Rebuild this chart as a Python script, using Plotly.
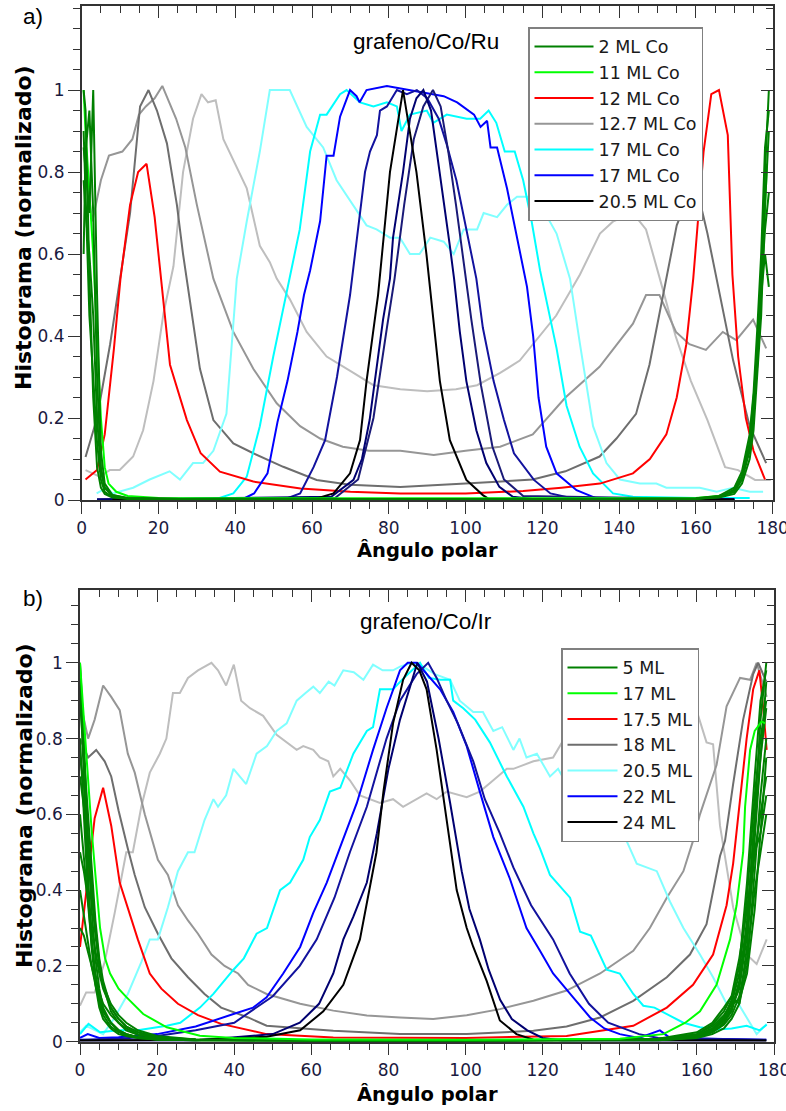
import plotly.graph_objects as go

W, H = 786, 1111

# ---------------- tick definitions ----------------
X_TICKS = [0, 20, 40, 60, 80, 100, 120, 140, 160, 180]
Y_TICKS = [0, 0.2, 0.4, 0.6, 0.8, 1.0]
Y_TICKTEXT = ["0", "0.2", "0.4", "0.6", "0.8", "1"]

# ================= Panel a) grafeno/Co/Ru =================
# 2 ML Co (dark green bundle)
XA_DG = [0.5, 1, 2, 3, 4, 5, 6, 8, 12, 30, 80, 130, 160, 166, 170, 172, 174, 175, 176, 177, 178, 179]
DGA_1 = [1.0, 0.95, 0.55, 0.25, 0.08, 0.03, 0.015, 0.006, 0.003, 0.002, 0.002, 0.002, 0.003, 0.008, 0.02, 0.05, 0.12, 0.2, 0.35, 0.55, 0.8, 1.0]
DGA_2 = [0.86, 0.8, 0.7, 1.0, 0.5, 0.12, 0.04, 0.012, 0.004, 0.002, 0.002, 0.002, 0.004, 0.01, 0.03, 0.07, 0.16, 0.26, 0.42, 0.6, 0.86, 0.95]
DGA_3 = [0.6, 0.85, 0.95, 0.7, 0.3, 0.08, 0.03, 0.01, 0.004, 0.002, 0.002, 0.002, 0.003, 0.006, 0.015, 0.04, 0.1, 0.17, 0.3, 0.45, 0.72, 0.9]
DGA_4 = [0.78, 0.7, 0.6, 0.45, 0.2, 0.07, 0.03, 0.012, 0.005, 0.002, 0.002, 0.002, 0.003, 0.007, 0.025, 0.06, 0.14, 0.24, 0.38, 0.52, 0.66, 0.75]
DGA_5 = [0.9, 0.75, 0.45, 0.3, 0.14, 0.05, 0.02, 0.008, 0.003, 0.002, 0.002, 0.002, 0.003, 0.009, 0.022, 0.055, 0.13, 0.22, 0.33, 0.5, 0.6, 0.52]

# 11 ML Co
XA_LG = [0.5, 1, 2, 3, 4, 5, 6, 7, 9, 12, 20, 40, 80, 120, 160, 166, 170, 172, 174, 176, 177.5, 178.5]
LG_A = [1.0, 0.9, 0.75, 0.6, 0.4, 0.2, 0.08, 0.04, 0.02, 0.01, 0.005, 0.004, 0.004, 0.004, 0.005, 0.01, 0.02, 0.06, 0.15, 0.35, 0.6, 0.82]

# 12 ML Co
XA_R = [1, 4, 6, 8.4, 10.1, 12.6, 14.7, 16.9, 19, 20.6, 23, 27.4, 31, 36, 44.7, 57, 70, 83, 100, 115,
        125, 135, 143.6, 148, 152.3, 155, 157.5, 159.3, 160.4, 162, 164, 166, 168.3, 169.5, 171, 173, 175, 178]
RED_A = [0.05, 0.073, 0.16, 0.37, 0.54, 0.72, 0.8, 0.82, 0.69, 0.55, 0.33, 0.195, 0.114, 0.069, 0.045, 0.028, 0.02, 0.016, 0.016, 0.022,
         0.03, 0.04, 0.065, 0.1, 0.16, 0.25, 0.38, 0.54, 0.66, 0.85, 0.99, 1.0, 0.89, 0.55, 0.35, 0.2, 0.12, 0.05]

# 12.7 ML Co (three grays)
XA_GD = [1, 4, 7.4, 10, 12.6, 15.2, 17.4, 19.6, 22.2, 24.8, 26.4, 30.8, 34.3, 39.5, 44.7, 52.5, 61.2, 69.9, 83, 100,
         117.5, 126, 134.9, 139.3, 144.4, 147.9, 150.5, 152.3, 155, 158, 161, 163, 165.4, 169.7, 174, 178.3]
GD_A = [0.105, 0.2, 0.38, 0.54, 0.7, 0.96, 1.0, 0.95, 0.87, 0.72, 0.6, 0.32, 0.195, 0.138, 0.114, 0.081, 0.049, 0.037, 0.032, 0.04,
        0.05, 0.07, 0.106, 0.15, 0.21, 0.33, 0.455, 0.54, 0.67, 0.74, 0.73, 0.65, 0.54, 0.34, 0.18, 0.09]
XA_GM = [0.9, 2.8, 5, 7.1, 10.6, 13.2, 14.9, 16.7, 19, 21, 22.8, 24.6, 27, 30, 34.3, 39.5, 44.7, 50.8, 56.9, 62.1,
         68, 74.8, 83, 91.7, 100, 109, 117.5, 126, 134.9, 143.6, 147, 150.5, 154.8, 158.3, 162.6, 167, 170.5, 174.9, 178.3]
GM_A = [0.8, 0.68, 0.78, 0.84, 0.85, 0.88, 0.94, 0.96, 0.98, 1.01, 0.97, 0.93, 0.86, 0.72, 0.54, 0.41, 0.32, 0.236, 0.18, 0.15,
        0.13, 0.12, 0.12, 0.11, 0.12, 0.13, 0.16, 0.25, 0.325, 0.43, 0.5, 0.5, 0.41, 0.38, 0.366, 0.41, 0.39, 0.44, 0.37]
XA_GL = [1, 4.7, 7.3, 9.9, 13.4, 16, 18.7, 21.3, 23.9, 26.4, 29, 31.2, 32.9, 34.9, 36.9, 39.5, 43, 46.4, 49, 50.8,
         54.2, 58.6, 63.8, 70.8, 76, 83, 90, 97.5, 103, 109, 114.1, 123.6, 129.8, 135, 138.5, 143.6, 147, 150.6, 154.7, 158.7,
         163, 167.6, 171, 175.4, 179.5]
GL_A = [0.073, 0.057, 0.073, 0.073, 0.106, 0.17, 0.29, 0.455, 0.57, 0.8, 0.93, 0.99, 0.97, 0.975, 0.88, 0.83, 0.76, 0.62, 0.58, 0.54,
        0.49, 0.41, 0.35, 0.31, 0.28, 0.27, 0.265, 0.27, 0.28, 0.31, 0.34, 0.45, 0.55, 0.65, 0.68, 0.7, 0.66, 0.54, 0.4, 0.29,
        0.195, 0.08, 0.073, 0.049, 0.049]

# 17 ML Co (light cyan and cyan)
XA_LC = [3.9, 6.5, 8.1, 13.4, 17.7, 22.9, 25.6, 29, 31.6, 34.3, 37.7, 40.4, 43, 46.4, 49, 51.6, 54.2, 58.6, 62.9, 66.4,
         70.7, 74.2, 76.8, 80.3, 82.9, 85.5, 88, 90.8, 94.3, 96.9, 99.5, 103, 104.7, 108.2, 110.8, 113.4, 116, 119.5, 123.7, 127.2,
         129.8, 133.2, 136.7, 140.2, 145.4, 149.7, 152.3, 161, 165.4, 169.7, 174, 177.5]
LC_A = [0.016, 0.03, 0.016, 0.03, 0.05, 0.07, 0.05, 0.09, 0.09, 0.12, 0.21, 0.54, 0.68, 0.85, 1.0, 1.0, 1.0, 0.91, 0.86, 0.78,
        0.72, 0.67, 0.66, 0.64, 0.64, 0.6, 0.6, 0.64, 0.63, 0.6, 0.66, 0.66, 0.7, 0.69, 0.72, 0.74, 0.74, 0.72, 0.65, 0.54,
        0.38, 0.18, 0.09, 0.05, 0.04, 0.04, 0.03, 0.03, 0.02, 0.03, 0.02, 0.02]
XA_C = [34.3, 39.5, 43, 46.4, 49.9, 52.5, 54.5, 56.8, 59.5, 62.1, 63.8, 67.3, 69, 72.5, 76, 79.5, 82.1, 83.3, 85.5, 89.9,
        91.6, 95.1, 100.3, 103.8, 106, 108, 110.2, 112.8, 115, 117.2, 119.4, 122, 123.7, 126.3, 129.7, 133.2, 138.4, 143.6, 160, 174]
C_A = [0, 0.016, 0.057, 0.18, 0.35, 0.47, 0.56, 0.66, 0.85, 0.94, 0.94, 0.99, 1.0, 0.97, 0.96, 0.97, 0.96, 0.9, 0.94, 0.95,
       0.92, 0.94, 0.93, 0.93, 0.95, 0.92, 0.85, 0.85, 0.78, 0.68, 0.56, 0.44, 0.37, 0.23, 0.13, 0.065, 0.016, 0.008, 0.005, 0.005]

# 17 ML Co (blue) and navy curves
XA_B = [41.5, 44.9, 48.4, 51, 53.6, 56.2, 57.9, 59.5, 62.1, 63.8, 65.6, 67.3, 69.9, 71.6, 72.4, 74.2, 79.5, 85.6, 90.8, 94.3,
        97.8, 102.2, 103.9, 105.6, 106.5, 108.2, 110.8, 113.4, 116, 117.6, 119, 121, 123.7, 128.9, 134.1, 170]
B_A = [0, 0.016, 0.065, 0.19, 0.29, 0.41, 0.5, 0.56, 0.68, 0.84, 0.84, 0.935, 1.0, 0.985, 0.97, 1.0, 1.01, 1.0, 0.99, 0.985,
       0.97, 0.94, 0.91, 0.925, 0.86, 0.86, 0.76, 0.64, 0.52, 0.4, 0.25, 0.13, 0.065, 0.024, 0.004, 0.002]
XA_N1 = [4, 53.4, 56.9, 60.4, 63.4, 66.5, 69.9, 72.5, 73.8, 75.1, 76.9, 77.7, 79.5, 82.1, 84.7, 87.3, 90, 93, 95, 97.6,
         100.2, 102.8, 104.5, 107.3, 110, 112.6, 117.8, 122.1, 128, 170]
N1_A = [0.001, 0.004, 0.016, 0.08, 0.146, 0.3, 0.5, 0.71, 0.8, 0.85, 0.89, 0.95, 0.96, 1.0, 0.99, 1.0, 0.98, 0.93, 0.87, 0.78,
        0.66, 0.54, 0.42, 0.29, 0.195, 0.114, 0.049, 0.016, 0.004, 0.001]
XA_N2 = [4, 65, 70.8, 73, 75, 78.5, 80.3, 81.1, 83.7, 85.5, 87.2, 89, 91, 93.3, 95.9, 97, 98.5, 100.2, 102.8, 105.4,
         108.8, 112.3, 118, 170]
N2_A = [0.001, 0.008, 0.049, 0.1, 0.195, 0.44, 0.54, 0.64, 0.8, 0.93, 0.98, 1.0, 0.95, 0.8, 0.62, 0.54, 0.41, 0.29, 0.17, 0.09,
        0.032, 0.008, 0.002, 0.001]
XA_N3 = [4, 66, 72, 76, 79.5, 81.5, 84, 86.5, 89, 91.5, 93.5, 95.5, 97.5, 99.5, 101.5, 104, 107, 110, 115, 170]
N3_A = [0.001, 0.005, 0.05, 0.2, 0.42, 0.54, 0.72, 0.88, 0.96, 1.0, 0.96, 0.85, 0.72, 0.58, 0.44, 0.28, 0.13, 0.05, 0.01, 0.001]

# 20.5 ML Co
XA_K = [8, 61.2, 65.6, 69.9, 72.5, 74.2, 77.2, 80.3, 83.7, 87.2, 89.8, 91.6, 93.3, 95.9, 100.2, 104.5, 106, 170]
K_A = [0.001, 0.004, 0.016, 0.065, 0.146, 0.29, 0.5, 0.8, 1.0, 0.8, 0.6, 0.44, 0.29, 0.146, 0.049, 0.012, 0.003, 0.001]

# ================= Panel b) grafeno/Co/Ir =================
# 5 ML (dark green bundle)
XB_DG = [0, 1, 2, 3, 4, 5, 6, 8, 10, 12, 15, 20, 30, 60, 100, 150, 160, 164, 167, 169, 171, 173, 175, 176.5, 178]
DGB_1 = [1.0, 0.8, 0.55, 0.35, 0.22, 0.14, 0.09, 0.05, 0.03, 0.02, 0.012, 0.008, 0.005, 0.003, 0.003, 0.005, 0.012, 0.025, 0.05, 0.08, 0.15, 0.3, 0.6, 0.85, 1.0]
DGB_2 = [0.9, 0.75, 0.6, 0.45, 0.32, 0.22, 0.16, 0.09, 0.06, 0.04, 0.025, 0.012, 0.006, 0.003, 0.003, 0.006, 0.02, 0.04, 0.07, 0.1, 0.18, 0.38, 0.65, 0.8, 0.9]
DGB_3 = [0.8, 0.6, 0.4, 0.25, 0.15, 0.09, 0.06, 0.035, 0.02, 0.015, 0.01, 0.006, 0.004, 0.003, 0.003, 0.004, 0.01, 0.02, 0.035, 0.06, 0.1, 0.2, 0.45, 0.65, 0.8]
DGB_4 = [0.7, 0.62, 0.5, 0.38, 0.28, 0.2, 0.15, 0.1, 0.07, 0.05, 0.03, 0.015, 0.006, 0.003, 0.003, 0.008, 0.025, 0.05, 0.09, 0.12, 0.1, 0.25, 0.55, 0.75, 0.95]
DGB_5 = [0.6, 0.48, 0.36, 0.26, 0.18, 0.12, 0.08, 0.05, 0.03, 0.02, 0.012, 0.007, 0.004, 0.003, 0.003, 0.005, 0.015, 0.03, 0.06, 0.09, 0.14, 0.28, 0.5, 0.6, 0.7]
DGB_6 = [0.5, 0.45, 0.38, 0.3, 0.24, 0.18, 0.14, 0.09, 0.06, 0.04, 0.025, 0.012, 0.005, 0.003, 0.003, 0.006, 0.018, 0.035, 0.065, 0.11, 0.2, 0.42, 0.7, 0.9, 0.98]
DGB_7 = [0.4, 0.33, 0.26, 0.2, 0.15, 0.11, 0.08, 0.05, 0.03, 0.02, 0.012, 0.006, 0.004, 0.003, 0.003, 0.004, 0.012, 0.025, 0.045, 0.07, 0.12, 0.22, 0.4, 0.5, 0.6]
DGB_8 = [0.3, 0.28, 0.24, 0.2, 0.16, 0.13, 0.1, 0.07, 0.05, 0.035, 0.02, 0.01, 0.005, 0.003, 0.003, 0.007, 0.02, 0.045, 0.08, 0.12, 0.22, 0.35, 0.5, 0.55, 0.65]
DGB_9 = [0.95, 0.7, 0.45, 0.28, 0.17, 0.1, 0.07, 0.04, 0.025, 0.017, 0.01, 0.006, 0.004, 0.003, 0.003, 0.005, 0.014, 0.03, 0.055, 0.085, 0.16, 0.32, 0.58, 0.75, 0.88]
DGB_10 = [0.75, 0.68, 0.55, 0.42, 0.3, 0.21, 0.15, 0.08, 0.05, 0.03, 0.018, 0.01, 0.005, 0.003, 0.003, 0.006, 0.016, 0.032, 0.06, 0.1, 0.11, 0.18, 0.35, 0.55, 0.75]

# 17 ML
XB_LG = [0, 1, 2.1, 3, 4, 5.2, 6.5, 7.8, 10, 12.1, 16.4, 22.5, 31.1, 39.8, 60, 100, 140, 151.3, 157, 160.8,
         165.1, 168.6, 170.3, 172, 172.5, 173.8, 175, 176.8, 177.7]
LG_B = [1.0, 0.85, 0.71, 0.56, 0.44, 0.3, 0.22, 0.18, 0.14, 0.117, 0.073, 0.038, 0.016, 0.01, 0.006, 0.005, 0.008, 0.02, 0.05, 0.08,
        0.15, 0.27, 0.36, 0.5, 0.62, 0.77, 0.82, 0.845, 0.84]

# 17.5 ML
XB_R = [0, 2.1, 3.8, 6, 8.1, 10.3, 12.4, 15, 18.1, 21.1, 25.4, 30.6, 36.6, 43.6, 48.4, 65.7, 83, 100, 126.2, 143.5,
        152.2, 159, 164.2, 167.7, 169.4, 171, 172.9, 174.6, 176.2, 177.2, 178.1]
RED_B = [0.25, 0.44, 0.59, 0.67, 0.57, 0.42, 0.35, 0.27, 0.18, 0.14, 0.1, 0.07, 0.047, 0.03, 0.02, 0.011, 0.01, 0.01, 0.015, 0.042,
         0.09, 0.15, 0.23, 0.36, 0.47, 0.62, 0.8, 0.93, 0.98, 0.88, 0.77]

# 18 ML (three grays)
XB_GL = [0, 1.6, 3.8, 6.4, 9, 12, 13.7, 15.9, 18.1, 20.7, 22.4, 24.1, 25.9, 28, 30.6, 34.1, 35.8, 37.9, 39.9, 41.8,
         44.1, 47.5, 51, 53.6, 56.2, 57.9, 60.5, 62.2, 64.4, 65.7, 67.5, 70, 72.6, 77.8, 81.2, 83.8, 86.4, 89.9, 92.5, 95.1,
         100.3, 103.7, 107.2, 110.7, 112.4, 117.6, 122.7, 126.2, 129.7, 132.3, 135.7, 138.3, 141.8, 145.2, 147.8, 150.4, 154.7, 159.9, 162.5, 164.2,
         166, 169.4, 172.9, 175.5, 178.1]
GL_B = [0.095, 0.13, 0.13, 0.21, 0.34, 0.5, 0.5, 0.62, 0.71, 0.76, 0.8, 0.92, 0.92, 0.96, 0.98, 1.0, 0.98, 0.94, 0.995, 0.9,
        0.88, 0.86, 0.81, 0.79, 0.77, 0.78, 0.77, 0.75, 0.74, 0.7, 0.72, 0.69, 0.65, 0.63, 0.64, 0.62, 0.635, 0.655, 0.64, 0.66,
        0.645, 0.66, 0.69, 0.72, 0.72, 0.74, 0.75, 0.81, 0.8, 0.87, 0.94, 0.92, 0.955, 0.97, 0.96, 1.0, 0.95, 0.875, 0.79, 0.785,
        0.57, 0.355, 0.23, 0.205, 0.27]
XB_GM = [0, 2.1, 3.8, 6, 8.1, 10.3, 12.4, 14.2, 16.8, 20.2, 22.8, 25.4, 28, 30.6, 34.1, 37.5, 41, 43.6, 48.4, 57.1,
         65.7, 74.4, 83, 91.6, 100.3, 108.9, 117.6, 126.2, 134.9, 143.5, 147.8, 152.2, 156.5, 159, 160.8, 165.1, 167.7, 171.2, 173.8, 175.5,
         178.1]
GM_B = [0.9, 0.8, 0.85, 0.94, 0.91, 0.875, 0.76, 0.71, 0.6, 0.48, 0.44, 0.36, 0.32, 0.285, 0.23, 0.2, 0.18, 0.15, 0.126, 0.1,
        0.082, 0.069, 0.064, 0.06, 0.07, 0.086, 0.108, 0.135, 0.18, 0.24, 0.3, 0.38, 0.45, 0.53, 0.6, 0.73, 0.885, 0.96, 0.955, 1.0,
        0.91]
XB_GD = [0, 2.1, 4.2, 6.4, 8.1, 10, 12.4, 14.2, 16.8, 20.2, 23.7, 28, 32.3, 36.6, 43.6, 48.4, 65.7, 83, 100.3, 117.6,
         126.2, 134.9, 143.5, 152.2, 158.2, 162.5, 166, 167.3, 169.4, 172, 174.6, 175.9, 178]
GD_B = [0.8, 0.75, 0.77, 0.74, 0.7, 0.61, 0.51, 0.44, 0.355, 0.285, 0.22, 0.17, 0.126, 0.09, 0.064, 0.042, 0.029, 0.02, 0.02, 0.029,
        0.04, 0.064, 0.108, 0.17, 0.23, 0.31, 0.49, 0.53, 0.68, 0.85, 0.97, 1.0, 0.95]

# 20.5 ML (light cyan) and cyan companion
XB_LC = [0, 1.6, 4, 6, 9, 12.4, 15.9, 18.1, 20.2, 22.8, 25.4, 28, 29.7, 32.3, 34.6, 35.8, 37.9, 39.8, 43.1, 45.8,
         48.5, 51, 53.6, 56.2, 58.5, 60.5, 62.2, 64.5, 66, 68.3, 71, 73.5, 76, 78.5, 81.2, 83, 86, 89, 92, 96,
         98.5, 102, 104.5, 107.2, 109.5, 112.4, 114, 115.8, 118.5, 121.9, 124, 126.2, 129.7, 132, 134.9, 136.6, 140, 144.4, 149.6, 153,
         156.5, 160.8, 164.2, 167.7, 170.3, 172.9, 175.5, 178.1]
LC_B = [0.025, 0.042, 0.03, 0.02, 0.064, 0.126, 0.21, 0.27, 0.27, 0.355, 0.45, 0.5, 0.5, 0.585, 0.64, 0.62, 0.65, 0.72, 0.68, 0.76,
        0.78, 0.82, 0.84, 0.9, 0.92, 0.937, 0.92, 0.95, 0.94, 0.98, 0.975, 0.955, 0.995, 0.98, 0.98, 0.99, 1.0, 0.99, 0.97, 0.955,
        0.9, 0.87, 0.87, 0.82, 0.83, 0.77, 0.8, 0.75, 0.76, 0.7, 0.72, 0.68, 0.64, 0.66, 0.62, 0.62, 0.57, 0.47, 0.45, 0.37,
        0.3, 0.23, 0.17, 0.1, 0.108, 0.064, 0.02, 0.047]
XB_C = [0, 2.2, 5.2, 10, 15, 22.5, 26, 31.1, 34.6, 39.8, 42.5, 45.8, 48.5, 51.9, 54.5, 57.9, 59.6, 62.2, 64.8, 67.5,
        70.9, 74.4, 76, 77.8, 81.2, 84, 88.2, 90.5, 93.4, 96, 96.8, 99.4, 102.5, 106.3, 110.7, 115, 117.6, 119.3, 121.9, 124.5,
        127.1, 129.7, 132.5, 136.6, 140, 143.5, 146.1, 149, 152.2, 156.5, 160.8, 165.1, 169, 172.9, 176.3, 178.1]
C_B = [0.02, 0.047, 0.025, 0.03, 0.03, 0.042, 0.05, 0.09, 0.126, 0.19, 0.22, 0.285, 0.3, 0.4, 0.42, 0.48, 0.54, 0.585, 0.66, 0.67,
       0.76, 0.82, 0.83, 0.93, 0.93, 0.96, 1.0, 0.96, 0.955, 0.955, 0.9, 0.88, 0.85, 0.79, 0.7, 0.62, 0.55, 0.51, 0.44, 0.41,
       0.38, 0.29, 0.28, 0.19, 0.18, 0.126, 0.095, 0.09, 0.073, 0.05, 0.038, 0.032, 0.035, 0.042, 0.03, 0.045]

# 22 ML (blue) and navy companions
XB_B1 = [0, 2, 5, 10, 20, 30, 39.8, 44.9, 48.4, 52.7, 57.1, 60.5, 64, 67.4, 71.8, 76, 79.5, 83, 85, 87.4,
         90, 93.4, 96.8, 100.3, 103.7, 107.2, 111.5, 115.8, 119.3, 122.7, 127.9, 132.3, 136, 140, 145, 150.4, 153, 178]
B1_B = [0.01, 0.02, 0.01, 0.012, 0.02, 0.04, 0.073, 0.09, 0.117, 0.18, 0.25, 0.34, 0.42, 0.51, 0.63, 0.77, 0.88, 0.98, 1.0, 1.0,
        0.97, 0.93, 0.87, 0.78, 0.66, 0.54, 0.43, 0.3, 0.24, 0.18, 0.117, 0.064, 0.035, 0.02, 0.01, 0.03, 0.01, 0.005]
XB_N1 = [0, 10, 20, 30, 40, 50, 57, 61.4, 66, 70, 74.4, 79.5, 83, 87.3, 90.3, 92.5, 95.1, 98, 102, 105,
         108.9, 112.4, 117, 122.7, 127, 132, 137, 145, 150, 178]
N1_B = [0.005, 0.008, 0.015, 0.03, 0.05, 0.12, 0.2, 0.27, 0.38, 0.5, 0.62, 0.8, 0.9, 0.97, 1.0, 0.96, 0.9, 0.84, 0.74, 0.64,
        0.55, 0.46, 0.36, 0.27, 0.18, 0.1, 0.05, 0.02, 0.01, 0.005]
XB_N2 = [0, 30, 50, 57, 62, 65.7, 68.3, 70.9, 74.4, 77, 80, 83, 86, 87.5, 90, 93, 96, 99, 101, 103.7,
         106, 109, 112, 116, 120, 125, 178]
N2_B = [0.003, 0.003, 0.02, 0.05, 0.1, 0.18, 0.27, 0.33, 0.42, 0.55, 0.72, 0.85, 0.95, 1.0, 0.95, 0.8, 0.63, 0.45, 0.35, 0.27,
        0.19, 0.11, 0.06, 0.03, 0.01, 0.003, 0.003]

# 24 ML
XB_K = [0, 31, 48.4, 57.1, 63.1, 68.3, 72.6, 76.9, 78.7, 81.2, 83.8, 86, 88, 89.9, 92.5, 95.1, 97.7, 100.3, 102, 105.5,
        108.9, 113.2, 117.6, 178]
K_B = [0.003, 0.005, 0.013, 0.03, 0.08, 0.15, 0.27, 0.5, 0.66, 0.84, 0.955, 1.0, 0.98, 0.93, 0.77, 0.58, 0.4, 0.3, 0.25, 0.16,
       0.056, 0.02, 0.005, 0.003]

# ---------------- colours ----------------
DGREEN = "#008000"
LGREEN = "#00FF00"
RED = "#FF0000"
GRAY_D = "#6E6E6E"
GRAY_M = "#969696"
GRAY_L = "#BEBEBE"
CYAN = "#00FFFF"
LCYAN = "#80FFFF"
BLUE = "#0000FF"
NAVY1 = "#12129E"
NAVY2 = "#000070"
NAVY3 = "#1A1A78"
BLACK = "#000000"

AX = "#333333"
TICKFONT = dict(family="DejaVu Sans", size=17, color="#1a1a40")

fig = go.Figure()


def add(x, y, color, panel, name="", show=False, rank=1000, width=2):
    xa, ya, lg = ("x", "y", "legend") if panel == "a" else ("x2", "y2", "legend2")
    fig.add_trace(go.Scatter(
        x=x, y=y, mode="lines", line=dict(color=color, width=width),
        name=name, showlegend=show, legend=lg, legendrank=rank,
        hoverinfo="skip", xaxis=xa, yaxis=ya))


# ---- panel a traces (drawing order) ----
add(XA_GL, GL_A, GRAY_L, "a")
add(XA_GM, GM_A, GRAY_M, "a", "12.7 ML Co", True, 4)
add(XA_GD, GD_A, GRAY_D, "a")
add(XA_LC, LC_A, LCYAN, "a")
add(XA_C, C_A, CYAN, "a", "17 ML Co", True, 5)
add(XA_R, RED_A, RED, "a", "12 ML Co", True, 3)
add(XA_B, B_A, BLUE, "a", "17 ML Co", True, 6)
add(XA_N1, N1_A, NAVY1, "a")
add(XA_N3, N3_A, NAVY3, "a")
add(XA_N2, N2_A, NAVY2, "a")
add(XA_K, K_A, BLACK, "a", "20.5 ML Co", True, 7)
add(XA_LG, LG_A, LGREEN, "a", "11 ML Co", True, 2)
add(XA_DG, DGA_5, DGREEN, "a")
add(XA_DG, DGA_4, DGREEN, "a")
add(XA_DG, DGA_3, DGREEN, "a")
add(XA_DG, DGA_2, DGREEN, "a")
add(XA_DG, DGA_1, DGREEN, "a", "2 ML Co", True, 1)

# ---- panel b traces ----
add(XB_GL, GL_B, GRAY_L, "b")
add(XB_GM, GM_B, GRAY_M, "b")
add(XB_GD, GD_B, GRAY_D, "b", "18 ML", True, 4)
add(XB_LC, LC_B, LCYAN, "b", "20.5 ML", True, 5)
add(XB_C, C_B, CYAN, "b")
add(XB_R, RED_B, RED, "b", "17.5 ML", True, 3)
add(XB_B1, B1_B, BLUE, "b", "22 ML", True, 6)
add(XB_N1, N1_B, NAVY1, "b")
add(XB_N2, N2_B, NAVY2, "b")
add(XB_K, K_B, BLACK, "b", "24 ML", True, 7)
for dg in [DGB_10, DGB_9, DGB_8, DGB_7, DGB_6, DGB_5, DGB_4, DGB_3, DGB_2]:
    add(XB_DG, dg, DGREEN, "b")
add(XB_DG, DGB_1, DGREEN, "b", "5 ML", True, 1)
add(XB_LG, LG_B, LGREEN, "b", "17 ML", True, 2)

# dummy traces so that the mirrored (top / right) axes are drawn
for xa, ya in [("x3", "y"), ("x", "y3"), ("x4", "y2"), ("x2", "y4")]:
    fig.add_trace(go.Scatter(x=[None], y=[None], xaxis=xa, yaxis=ya, showlegend=False, hoverinfo="skip"))

# ---------------- geometry (pixels -> paper) ----------------
A_X = [81.7 / W, 772.7 / W]
A_Y = [1 - 500 / H, 1 - 6 / H]
B_X = [80 / W, 774 / W]
B_Y = [1 - 1041.7 / H, 1 - 590 / H]
A_YMAX = 1.205
B_YMAX = 1.192

MINOR_X = dict(tickmode="linear", tick0=0, dtick=5, ticklen=7, tickwidth=1.3, tickcolor=AX)
MINOR_Y = dict(tickmode="linear", tick0=0, dtick=0.05, ticklen=7, tickwidth=1.3, tickcolor=AX)


def xmain(domain, anchor):
    return dict(domain=domain, anchor=anchor, range=[0, 180], tickmode="linear", tick0=0, dtick=20,
                ticks="outside", ticklen=12, tickwidth=1.3, tickcolor=AX,
                minor=dict(MINOR_X, ticks="outside"), ticklabeloverflow="allow", automargin=False,
                showline=True, linecolor=AX, linewidth=1.5, showgrid=False, zeroline=False,
                tickfont=TICKFONT, fixedrange=True)


def xtop(over, anchor):
    return dict(overlaying=over, anchor=anchor, side="top", range=[0, 180], tickmode="linear", tick0=0, dtick=20,
                ticks="inside", ticklen=12, tickwidth=1.3, tickcolor=AX,
                minor=dict(MINOR_X, ticks="inside"), automargin=False,
                showticklabels=False, showline=True, linecolor=AX, linewidth=1.5,
                showgrid=False, zeroline=False, fixedrange=True)


def ymain(domain, anchor, ymax):
    return dict(domain=domain, anchor=anchor, range=[0, ymax], tickmode="array", tickvals=Y_TICKS, ticktext=Y_TICKTEXT,
                ticks="outside", ticklen=12, tickwidth=1.3, tickcolor=AX,
                minor=dict(MINOR_Y, ticks="outside"), automargin=False,
                showline=True, linecolor=AX, linewidth=1.5, showgrid=False, zeroline=False,
                tickfont=TICKFONT, fixedrange=True)


def yright(over, anchor, ymax):
    return dict(overlaying=over, anchor=anchor, side="right", range=[0, ymax], tickmode="array", tickvals=Y_TICKS,
                ticks="inside", ticklen=12, tickwidth=1.3, tickcolor=AX,
                minor=dict(MINOR_Y, ticks="inside"), automargin=False,
                showticklabels=False, showline=True, linecolor=AX, linewidth=1.5,
                showgrid=False, zeroline=False, fixedrange=True)


LEGFONT = dict(family="DejaVu Sans", size=17.5, color="#1a1a1a")

fig.update_layout(
    width=W, height=H, margin=dict(l=0, r=0, t=0, b=0, autoexpand=False),
    paper_bgcolor="white", plot_bgcolor="white",
    font=dict(family="DejaVu Sans"),
    xaxis=xmain(A_X, "y"), yaxis=ymain(A_Y, "x", A_YMAX),
    xaxis2=xmain(B_X, "y2"), yaxis2=ymain(B_Y, "x2", B_YMAX),
    xaxis3=xtop("x", "y"), yaxis3=yright("y", "x", A_YMAX),
    xaxis4=xtop("x2", "y2"), yaxis4=yright("y2", "x2", B_YMAX),
    legend=dict(x=528 / W, y=1 - 27 / H, xanchor="left", yanchor="top", bgcolor="white",
                bordercolor="#808080", borderwidth=1.5, font=LEGFONT, itemwidth=59, traceorder="normal"),
    legend2=dict(x=561 / W, y=1 - 648 / H, xanchor="left", yanchor="top", bgcolor="white",
                 bordercolor="#808080", borderwidth=1.5, font=LEGFONT, itemwidth=50, traceorder="normal"),
    showlegend=True,
)

ann = [
    dict(text="a)", x=33 / W, y=1 - 16 / H),
    dict(text="b)", x=33 / W, y=1 - 598 / H),
    dict(text="grafeno/Co/Ru", x=426 / W, y=1 - 42 / H),
    dict(text="grafeno/Co/Ir", x=426 / W, y=1 - 621 / H),
]
for a in ann:
    fig.add_annotation(xref="paper", yref="paper", x=a["x"], y=a["y"], text=a["text"], showarrow=False,
                       xanchor="center", yanchor="middle",
                       font=dict(family="Liberation Sans", size=22.5, color="black"))

TITLEFONT = dict(family="DejaVu Sans", size=22, color="black")
for yc in [228, 806]:
    fig.add_annotation(xref="paper", yref="paper", x=24 / W, y=1 - yc / H, text="<b>Histograma (normalizado)</b>",
                       textangle=-90, showarrow=False, xanchor="center", yanchor="middle", font=TITLEFONT)
XTITLEFONT = dict(family="DejaVu Sans", size=19.5, color="black")
for yc in [550, 1094]:
    fig.add_annotation(xref="paper", yref="paper", x=427 / W, y=1 - yc / H, text="<b>Ângulo polar</b>",
                       showarrow=False, xanchor="center", yanchor="middle", font=XTITLEFONT)

fig.write_html("out.html")
